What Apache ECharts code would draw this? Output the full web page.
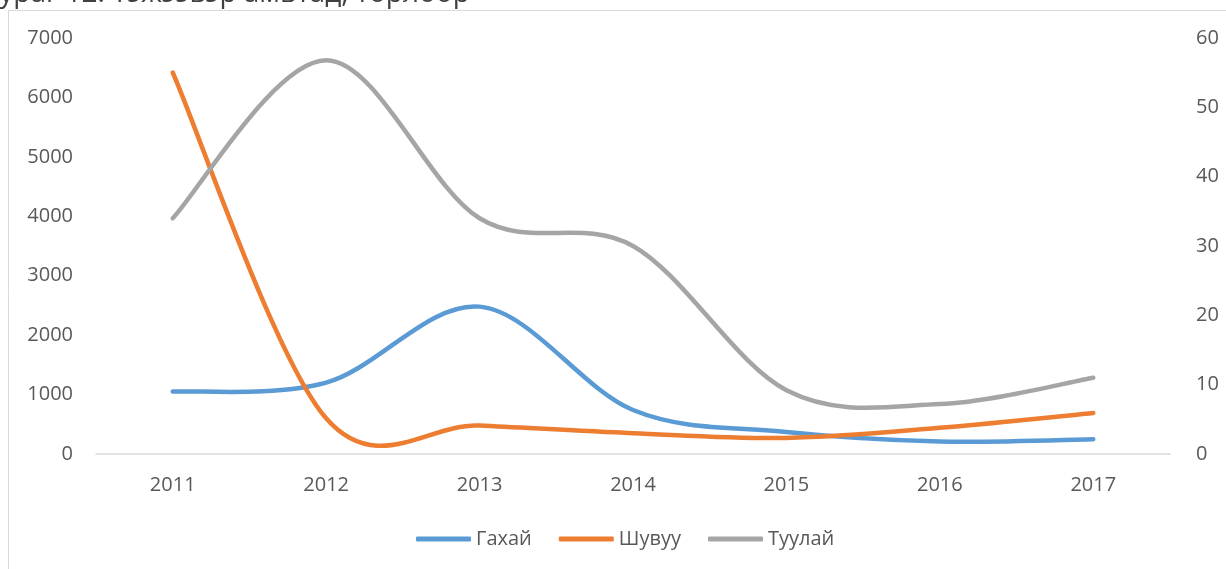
<!DOCTYPE html>
<html>
<head>
<meta charset="utf-8">
<script src="https://cdn.jsdelivr.net/npm/echarts@6/dist/echarts.min.js"></script>
<style>
html,body{margin:0;padding:0;background:#fff;}
#chart{width:1226px;height:569px;}
</style>
</head>
<body>
<div id="chart"></div>
<script>
const titleText = 'Зураг 12. Тэжээвэр амьтад, төрлөөр';
const categories = ['2011','2012','2013','2014','2015','2016','2017'];
const gakhai = [1050, 1200, 2480, 740, 370, 210, 250];
const shuvuu = [6420, 600, 480, 350, 270, 440, 690];
const tuulai = [34, 56.8, 34, 30, 9.2, 7.2, 11];
const seriesNames = ['Гахай', 'Шувуу', 'Туулай'];
const colors = ['#5B9BD5', '#ED7D31', '#A5A5A5'];

const FONT = '"Open Sans", "Noto Sans", sans-serif';
const LABEL = {fontFamily: FONT, fontSize: 20, color: '#595959'};

// Excel-style smoothed line: cubic Bezier through every data point (Catmull-Rom tangents)
function smoothLine(name, values, yAxisIndex, color) {
  return {
    name: name, type: 'custom', yAxisIndex: yAxisIndex,
    itemStyle: {color: color},
    data: values.map(function (v, i) { return [i, v]; }),
    encode: {x: 0, y: 1},
    renderItem: function (params, api) {
      if (params.dataIndex !== 0) return null;
      const p = values.map(function (v, i) { return api.coord([i, v]); });
      const n = p.length;
      let d = 'M' + p[0][0] + ' ' + p[0][1];
      for (let i = 0; i < n - 1; i++) {
        const p0 = p[Math.max(i - 1, 0)], p1 = p[i], p2 = p[i + 1], p3 = p[Math.min(i + 2, n - 1)];
        const c1x = p1[0] + (p2[0] - p0[0]) / 6, c1y = p1[1] + (p2[1] - p0[1]) / 6;
        const c2x = p2[0] - (p3[0] - p1[0]) / 6, c2y = p2[1] - (p3[1] - p1[1]) / 6;
        d += ' C' + c1x + ' ' + c1y + ' ' + c2x + ' ' + c2y + ' ' + p2[0] + ' ' + p2[1];
      }
      return {
        type: 'path', shape: {pathData: d},
        style: {fill: 'none', stroke: color, lineWidth: 4.5, lineCap: 'round', lineJoin: 'round'}
      };
    }
  };
}

const chart = echarts.init(document.getElementById('chart'), null, {renderer: 'canvas'});
chart.setOption({
  animation: false,
  backgroundColor: '#fff',
  color: colors,
  graphic: [
    {type: 'rect', shape: {x: 8.5, y: 10.5, width: 1400, height: 800}, style: {fill: 'none', stroke: '#d9d9d9', lineWidth: 1}, silent: true},
    {type: 'text', x: -17, y: 8, style: {text: titleText, font: '28px ' + FONT, fill: '#404040', verticalAlign: 'bottom'}, silent: true}
  ],
  grid: {left: 96, right: 56, top: 38, bottom: 115, containLabel: false},
  legend: {
    bottom: 15, left: 411,
    itemWidth: 55, itemHeight: 5, itemGap: 27,
    icon: 'roundRect',
    textStyle: LABEL,
    data: seriesNames
  },
  xAxis: {
    type: 'category', data: categories, boundaryGap: true,
    axisLine: {lineStyle: {color: '#d9d9d9', width: 1.5}},
    axisTick: {show: false},
    axisLabel: Object.assign({margin: 21}, LABEL)
  },
  yAxis: [
    {type: 'value', min: 0, max: 7000, interval: 1000,
     axisLine: {show: false}, axisTick: {show: false}, splitLine: {show: false},
     axisLabel: Object.assign({margin: 23, formatter: function (v) { return String(v); }}, LABEL)},
    {type: 'value', min: 0, max: 60, interval: 10,
     axisLine: {show: false}, axisTick: {show: false}, splitLine: {show: false},
     axisLabel: Object.assign({margin: 26, formatter: function (v) { return String(v); }}, LABEL)}
  ],
  series: [
    smoothLine(seriesNames[0], gakhai, 0, colors[0]),
    smoothLine(seriesNames[1], shuvuu, 0, colors[1]),
    smoothLine(seriesNames[2], tuulai, 1, colors[2])
  ]
});
</script>
</body>
</html>
